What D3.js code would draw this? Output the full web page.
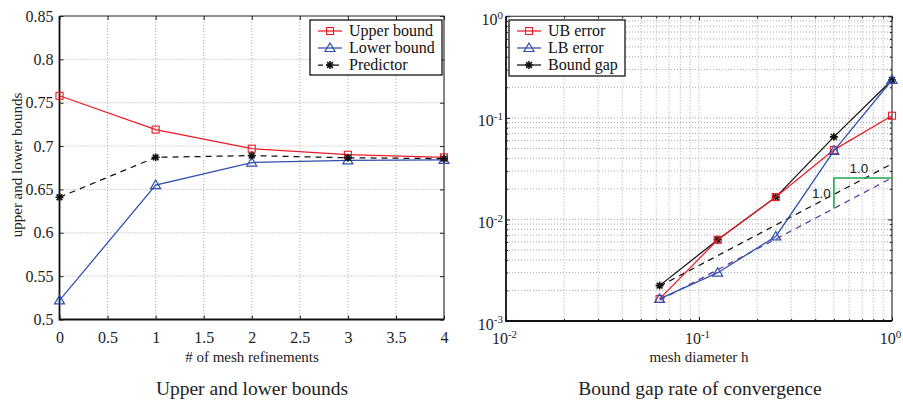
<!DOCTYPE html>
<html><head><meta charset="utf-8">
<script src="https://cdn.jsdelivr.net/npm/d3@7"></script>
<style>body{margin:0;background:#fff}svg{display:block}</style>
</head><body>
<script>
// ---------- data ----------
const refinements = [0, 1, 2, 3, 4];
const upperBound = [0.758, 0.719, 0.697, 0.690, 0.687];
const lowerBound = [0.522, 0.655, 0.681, 0.6835, 0.684];
const predictor = [0.641, 0.687, 0.689, 0.6865, 0.6855];
const leftXTicks = [0, 0.5, 1, 1.5, 2, 2.5, 3, 3.5, 4];
const leftXTickLabels = ["0", "0.5", "1", "1.5", "2", "2.5", "3", "3.5", "4"];
const leftYTicks = [0.5, 0.55, 0.6, 0.65, 0.7, 0.75, 0.8, 0.85];
const leftYTickLabels = ["0.5", "0.55", "0.6", "0.65", "0.7", "0.75", "0.8", "0.85"];

const meshH = [0.0625, 0.125, 0.25, 0.5, 1];
const ubError = [0.00165, 0.0063, 0.0166, 0.0484, 0.105];
const lbError = [0.00165, 0.00299, 0.0068, 0.0474, 0.236];
const boundGap = [0.00223, 0.0063, 0.0166, 0.065, 0.236];
const refH = [0.0625, 1];
const refGapLine = [0.0022, 0.0353];
const refLbLine = [0.0016, 0.0257];
const slopeH = [0.5, 1];
const slopeLabels = ["1.0", "1.0"];

const W = 903, H = 401;
const serif = "'Liberation Serif', 'Times New Roman', serif";
const sans = "'Liberation Sans', Arial, sans-serif";
const RED = "#ec1c24", BLUE = "#2f4fae", BLACK = "#111", PURPLE = "#5a3c9c", GREEN = "#1faa52";
const LW = 1.25;

const svg = d3.select("body").append("svg").attr("width", W).attr("height", H);

function markers(g, pts, type, color) {
  pts.forEach(([px, py]) => {
    if (type === "square") {
      g.append("rect").attr("x", px - 3.5).attr("y", py - 3.5).attr("width", 7).attr("height", 7)
        .attr("fill", "none").attr("stroke", color).attr("stroke-width", 1.1);
    } else if (type === "triangle") {
      g.append("path").attr("d", `M${px},${py - 5}L${px + 5},${py + 3.5}L${px - 5},${py + 3.5}Z`)
        .attr("fill", "none").attr("stroke", color).attr("stroke-width", 1.2);
    } else {
      const r = 4, d = r * 0.72;
      g.append("path").attr("d", `M${px - r},${py}L${px + r},${py}M${px},${py - r}L${px},${py + r}M${px - d},${py - d}L${px + d},${py + d}M${px - d},${py + d}L${px + d},${py - d}`)
        .attr("stroke", color).attr("stroke-width", 1.6);
    }
  });
}

function series(g, x, y, xs, ys, color, dash, mtype) {
  const line = d3.line().x(d => x(d[0])).y(d => y(d[1]));
  const pts = xs.map((v, i) => [v, ys[i]]);
  g.append("path").attr("d", line(pts)).attr("fill", "none").attr("stroke", color)
    .attr("stroke-width", LW).attr("stroke-dasharray", dash || null);
  if (mtype) markers(g, pts.map(p => [x(p[0]), y(p[1])]), mtype, color);
}

function legend(g, x0, y0, w, h, items) {
  g.append("rect").attr("x", x0).attr("y", y0).attr("width", w).attr("height", h)
    .attr("fill", "#fff").attr("stroke", "#000").attr("stroke-width", 1.2);
  items.forEach((it, i) => {
    const yy = y0 + 11 + i * 17;
    g.append("line").attr("x1", x0 + 8).attr("x2", x0 + 32).attr("y1", yy).attr("y2", yy)
      .attr("stroke", it.color).attr("stroke-width", LW).attr("stroke-dasharray", it.dash || null);
    markers(g, [[x0 + 20, yy]], it.marker, it.color);
    g.append("text").attr("x", x0 + 39).attr("y", yy + 5).text(it.label)
      .attr("font-family", serif).attr("font-size", 16).attr("fill", "#111");
  });
}

// ---------- left chart ----------
{
  const x = d3.scaleLinear().domain([0, 4]).range([59.5, 444]);
  const y = d3.scaleLinear().domain([0.5, 0.85]).range([319.5, 16]);
  const g = svg.append("g");
  g.append("g").selectAll("line").data(leftXTicks.slice(1, -1)).join("line")
    .attr("x1", d => x(d)).attr("x2", d => x(d)).attr("y1", y(0.85)).attr("y2", y(0.5))
    .attr("stroke", "#aaa").attr("stroke-width", 1).attr("stroke-dasharray", "1,2");
  g.append("g").selectAll("line").data(leftYTicks.slice(1, -1)).join("line")
    .attr("y1", d => y(d)).attr("y2", d => y(d)).attr("x1", x(0)).attr("x2", x(4))
    .attr("stroke", "#aaa").attr("stroke-width", 1).attr("stroke-dasharray", "1,2");
  const ax = g.append("g").attr("transform", `translate(0,${y(0.5)})`)
    .call(d3.axisBottom(x).tickValues(leftXTicks).tickFormat((d, i) => leftXTickLabels[i]).tickSize(-4).tickPadding(12));
  const at = g.append("g").attr("transform", `translate(0,${y(0.85)})`)
    .call(d3.axisTop(x).tickValues(leftXTicks).tickFormat("").tickSize(-4));
  const ay = g.append("g").attr("transform", `translate(${x(0)},0)`)
    .call(d3.axisLeft(y).tickValues(leftYTicks).tickFormat((d, i) => leftYTickLabels[i]).tickSize(-4).tickPadding(6));
  const ar = g.append("g").attr("transform", `translate(${x(4)},0)`)
    .call(d3.axisRight(y).tickValues(leftYTicks).tickFormat("").tickSize(-4));
  [ax, at, ay, ar].forEach(a => {
    a.select(".domain").remove();
    a.selectAll("line").attr("stroke", "#222");
    a.selectAll("text").attr("font-family", serif).attr("font-size", 16).attr("fill", "#222");
  });
  g.append("path").attr("d", `M${x(0)},${y(0.85)}H${x(4)}V${y(0.5)}`).attr("fill", "none").attr("stroke", "#222").attr("stroke-width", 1.1);
  g.append("path").attr("d", `M${x(0)},${y(0.85)}V${y(0.5)}H${x(4)}`).attr("fill", "none").attr("stroke", "#111").attr("stroke-width", 1.8);

  series(g, x, y, refinements, upperBound, RED, null, "square");
  series(g, x, y, refinements, lowerBound, BLUE, null, "triangle");
  series(g, x, y, refinements, predictor, BLACK, "6,5", "star");

  legend(g, 310, 20, 132, 55, [
    { label: "Upper bound", color: RED, marker: "square" },
    { label: "Lower bound", color: BLUE, marker: "triangle" },
    { label: "Predictor", color: BLACK, marker: "star", dash: "5,3" }
  ]);

  g.append("text").attr("x", 252).attr("y", 362).attr("text-anchor", "middle")
    .attr("font-family", serif).attr("font-size", 15).attr("fill", "#222").text("# of mesh refinements");
  g.append("text").attr("transform", "translate(22,165) rotate(-90)").attr("text-anchor", "middle")
    .attr("font-family", serif).attr("font-size", 15).attr("fill", "#222").text("upper and lower bounds");
  g.append("text").attr("x", 252).attr("y", 395).attr("text-anchor", "middle")
    .attr("font-family", serif).attr("font-size", 19.5).attr("fill", "#222").text("Upper and lower bounds");
}

// ---------- right chart ----------
{
  const x = d3.scaleLog().domain([0.01, 1]).range([506, 892]);
  const y = d3.scaleLog().domain([0.001, 1]).range([321, 16.3]);
  const g = svg.append("g");
  const xt = x.ticks(), yt = y.ticks();
  const isMajor = v => Math.abs(Math.log10(v) - Math.round(Math.log10(v))) < 1e-9;
  g.append("g").selectAll("line").data(xt.filter(v => v > 0.0100001 && v < 0.99999)).join("line")
    .attr("x1", d => x(d)).attr("x2", d => x(d)).attr("y1", y(1)).attr("y2", y(0.001))
    .attr("stroke", "#aaa").attr("stroke-width", 1).attr("stroke-dasharray", "1,2");
  g.append("g").selectAll("line").data(yt.filter(v => v > 0.0010001 && v < 0.99999)).join("line")
    .attr("y1", d => y(d)).attr("y2", d => y(d)).attr("x1", x(0.01)).attr("x2", x(1))
    .attr("stroke", "#aaa").attr("stroke-width", 1).attr("stroke-dasharray", "1,2");

  const mk = (axisFn, scale, tr, ticks, lbl, padding) => {
    const a = g.append("g").attr("transform", tr)
      .call(axisFn(scale).tickValues(ticks).tickFormat(lbl ? (d => isMajor(d) ? "10|" + Math.round(Math.log10(d)) : "") : "").tickSize(-4).tickPadding(padding || 3));
    a.select(".domain").remove();
    a.selectAll("line").attr("stroke", "#222");
    a.selectAll(".tick").each(function (d) {
      if (!isMajor(d)) {
        const ln = d3.select(this).select("line");
        ["x2", "y2"].forEach(k => { const v = ln.attr(k); if (v !== null && +v !== 0) ln.attr(k, +v * 0.55); });
      }
    });
    a.selectAll("text").each(function () {
      const t = d3.select(this); const s = t.text();
      if (!s) return;
      const [b, e] = s.split("|");
      t.text(null).attr("font-family", serif).attr("font-size", 16).attr("fill", "#222");
      t.append("tspan").text(b);
      t.append("tspan").attr("font-size", 11).attr("dy", "-0.55em").text(e);
    });
    return a;
  };
  const ab = mk(d3.axisBottom, x, `translate(0,${y(0.001)})`, xt, true, 12);
  mk(d3.axisTop, x, `translate(0,${y(1)})`, xt, false);
  const al = mk(d3.axisLeft, y, `translate(${x(0.01)},0)`, yt, true, 3);
  mk(d3.axisRight, y, `translate(${x(1)},0)`, yt, false);
  ab.selectAll("text").attr("dx", -2);
  al.selectAll("text").attr("dy", "0.5em");

  g.append("path").attr("d", `M${x(0.01)},${y(1)}H${x(1)}V${y(0.001)}`).attr("fill", "none").attr("stroke", "#222").attr("stroke-width", 1.1);
  g.append("path").attr("d", `M${x(0.01)},${y(1)}V${y(0.001)}H${x(1)}`).attr("fill", "none").attr("stroke", "#111").attr("stroke-width", 1.8);

  series(g, x, y, refH, refGapLine, BLACK, "6,5", null);
  series(g, x, y, refH, refLbLine, PURPLE, "6,5", null);
  const lbAt = h => refLbLine[0] * h / refH[0];
  const tri = d3.line().x(d => x(d[0])).y(d => y(d[1]));
  g.append("path").attr("d", tri([[slopeH[0], lbAt(slopeH[0])], [slopeH[0], lbAt(slopeH[1])], [slopeH[1], lbAt(slopeH[1])]]))
    .attr("fill", "none").attr("stroke", GREEN).attr("stroke-width", 1.6);
  g.append("text").attr("x", (x(slopeH[0]) + x(slopeH[1])) / 2 - 4).attr("y", y(lbAt(slopeH[1])) - 5)
    .attr("text-anchor", "middle").attr("font-family", sans).attr("font-size", 13.5).attr("fill", "#222").text(slopeLabels[0]);
  g.append("text").attr("x", x(slopeH[0]) - 3).attr("y", (y(lbAt(slopeH[0])) + y(lbAt(slopeH[1]))) / 2 + 5)
    .attr("text-anchor", "end").attr("font-family", sans).attr("font-size", 13.5).attr("fill", "#222").text(slopeLabels[1]);

  series(g, x, y, meshH, boundGap, BLACK, null, "star");
  series(g, x, y, meshH, ubError, RED, null, "square");
  series(g, x, y, meshH, lbError, BLUE, null, "triangle");

  legend(g, 509, 20, 116, 56, [
    { label: "UB error", color: RED, marker: "square" },
    { label: "LB error", color: BLUE, marker: "triangle" },
    { label: "Bound gap", color: BLACK, marker: "star" }
  ]);

  g.append("text").attr("x", 699).attr("y", 362).attr("text-anchor", "middle")
    .attr("font-family", serif).attr("font-size", 15).attr("fill", "#222").text("mesh diameter h");
  g.append("text").attr("x", 700).attr("y", 395).attr("text-anchor", "middle")
    .attr("font-family", serif).attr("font-size", 19.5).attr("fill", "#222").text("Bound gap rate of convergence");
}
</script>
</body></html>
